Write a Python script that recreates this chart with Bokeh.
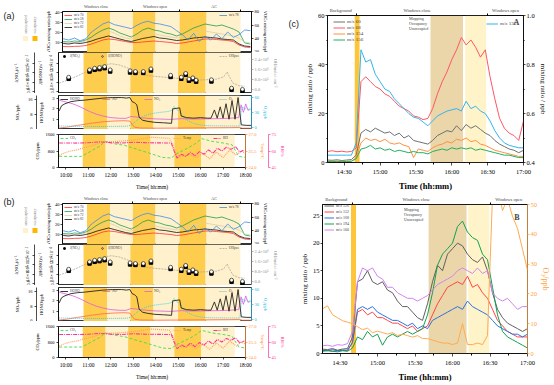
import numpy as np
from math import pi
from bokeh.plotting import figure
from bokeh.models import (Range1d, LinearAxis, FixedTicker, BoxAnnotation, Label,
                          Legend, LegendItem, NumeralTickFormatter)
from bokeh.core.properties import value
from bokeh.layouts import row, column
from bokeh.embed import file_html
from bokeh.resources import INLINE

SERIF = "Liberation Serif"
SANS = "Liberation Sans"

# ====================== DATA: panels (a) and (b) ======================
left_ticks = [10, 11, 12, 13, 14, 15, 16, 17, 18]
left_tick_labels = ["10:00", "11:00", "12:00", "13:00", "14:00", "15:00", "16:00", "17:00", "18:00"]
phase_labels = ["Windows close", "Windows open", "AC"]
phase_centers = [11.15, 13.75, 16.35]
phase_dividers = [12.77, 14.83, 17.52]
band_start = [10.75, 11.77, 12.77, 13.77, 14.83, 16.02]
band_end = [11.77, 12.77, 13.77, 14.83, 16.02, 17.52]
band_kind = ["occupancy", "unoccupied", "occupancy", "unoccupied", "occupancy", "unoccupied"]

# VOCs (ppb)
t_voc = [9.7, 9.95, 10.2, 10.45, 10.7, 10.95, 11.2, 11.45, 11.7, 11.95, 12.2, 12.45, 12.7, 12.95,
         13.2, 13.45, 13.7, 13.95, 14.2, 14.45, 14.7, 14.95, 15.2, 15.45, 15.7, 15.95, 16.2, 16.45,
         16.7, 16.95, 17.2, 17.45, 17.7, 17.95]
mz70 = [5.5, 5.3, 5.6, 5.8, 6.5, 8.0, 10.0, 12.0, 13.0, 12.5, 11.5, 10.5, 9.5, 9.5, 10.0, 10.5, 11.0,
        10.5, 10.0, 9.5, 8.5, 9.0, 10.0, 11.0, 12.0, 13.0, 13.0, 12.5, 12.0, 11.5, 10.5, 7.0, 5.0, 4.5]
mz58 = [10.5, 10.0, 11.0, 10.5, 12.0, 15.0, 19.0, 22.0, 24.0, 22.0, 19.0, 17.0, 15.0, 18.0, 22.0, 24.0,
        22.0, 21.0, 19.0, 18.0, 16.0, 18.0, 21.0, 24.0, 26.0, 28.0, 27.0, 26.0, 27.0, 25.0, 23.0, 20.0, 9.0, 8.0]
mz72 = [9.5, 9.0, 10.0, 9.5, 11.0, 13.0, 16.0, 19.0, 21.0, 19.0, 16.0, 14.0, 13.0, 15.0, 18.0, 20.0,
        18.5, 17.0, 16.0, 15.0, 14.0, 15.0, 17.0, 19.0, 20.0, 21.0, 20.0, 19.0, 18.0, 17.0, 16.0, 14.0, 10.0, 9.0]
mz82 = [8.5, 8.0, 9.0, 8.5, 9.5, 11.0, 13.0, 14.5, 16.0, 14.5, 13.0, 11.5, 10.5, 12.0, 13.5, 14.5, 15.5,
        14.0, 13.5, 12.5, 11.5, 12.0, 13.0, 14.0, 14.5, 15.0, 14.5, 14.0, 13.0, 12.5, 12.0, 8.0, 6.0, 5.5]
mz78 = [40, 38, 41, 37, 40, 50, 56, 62, 65, 61, 59, 57, 55, 60, 64, 66, 63, 62, 60, 58, 52, 46, 38, 48,
        36, 44, 38, 47, 40, 50, 42, 46, 53, 52]

# photolysis frequencies and OH
t_j = [10.11, 11.01, 11.23, 11.44, 11.66, 11.9, 12.76, 12.99, 13.33, 13.66, 14.51, 14.97, 15.16, 15.3,
       15.47, 15.61, 16.27, 17.14, 17.61]
j_no2 = [5.4e-3, 8.5e-3, 9.2e-3, 9.5e-3, 9.9e-3, 8.5e-3, 8.1e-3, 7.9e-3, 7.9e-3, 8.9e-3, 6.2e-3, 5.4e-3,
         7.1e-3, 4.6e-3, 5.2e-3, 4.2e-3, 4.3e-3, 0.8e-3, 0.3e-3]
j_hono = [1.07e-4, 1.61e-4, 1.73e-4, 1.78e-4, 1.85e-4, 1.61e-4, 1.54e-4, 1.49e-4, 1.49e-4, 1.68e-4,
          1.21e-4, 1.07e-4, 1.35e-4, 0.93e-4, 1.02e-4, 0.85e-4, 0.88e-4, 0.26e-4, 0.17e-4]
t_oh = [9.7, 10.0, 10.4, 10.8, 11.2, 11.6, 11.95, 12.3, 12.6, 12.9, 13.2, 13.5, 13.8, 14.1, 14.4, 14.7,
        15.0, 15.4, 15.8, 16.2, 16.5, 16.8, 16.95, 17.05, 17.2, 17.45, 17.7]
oh_pss = [0.5e6, 0.7e6, 1.0e6, 1.35e6, 1.7e6, 1.95e6, 2.05e6, 1.95e6, 1.75e6, 1.55e6, 1.3e6, 1.1e6,
          1.05e6, 1.0e6, 0.95e6, 0.9e6, 0.85e6, 0.8e6, 0.75e6, 0.78e6, 0.82e6, 1.0e6, 1.4e6, 1.0e6,
          0.5e6, 0.3e6, 0.25e6]

# HONO, NO, NO2, O3 (ppb)
t_hono = [9.7, 9.8, 9.95, 10.2, 10.5, 10.8, 11.2, 11.6, 12.0, 12.4, 12.6, 12.75, 12.85, 12.95, 13.05,
          13.15, 13.3, 13.5, 13.8, 14.2, 14.55, 14.6, 14.9, 14.97, 15.2, 15.5, 15.8, 16.1, 16.25, 16.4,
          16.52, 16.65, 16.77, 16.9, 17.03, 17.16, 17.29, 17.42, 17.5, 17.56, 17.8, 18.0]
hono = [1.8, 2.3, 2.5, 2.7, 2.8, 2.85, 2.95, 3.05, 3.1, 3.1, 3.05, 3.1, 2.7, 2.6, 2.4, 1.2, 0.9, 0.8,
        0.7, 0.65, 0.6, 2.0, 2.1, 1.3, 1.15, 1.1, 1.15, 1.1, 1.1, 1.9, 1.1, 2.2, 1.1, 2.5, 1.0, 2.8, 1.0,
        3.1, 1.6, 0.45, 0.4, 0.4]
t_no = [9.7, 10.0, 10.5, 11.0, 11.5, 12.0, 12.5, 12.75, 12.85, 12.95, 13.2, 14.0, 15.0, 16.0, 17.0,
        17.5, 17.6, 18.0]
no = [0.6, 1.0, 2.0, 3.0, 3.8, 4.3, 4.5, 4.3, 2.5, 1.0, 0.6, 0.5, 0.6, 0.7, 0.8, 0.9, 0.5, 0.5]
t_no2 = [9.7, 10.0, 10.3, 10.6, 11.0, 11.3, 11.6, 11.9, 12.3, 12.6, 12.8, 13.0, 13.3, 13.8, 14.5, 15.0,
         15.5, 16.0, 16.5, 17.0, 17.45, 17.55, 17.65, 17.75, 17.85, 17.95]
no2 = [15.5, 14.5, 13.5, 12.0, 9.5, 8.0, 7.0, 6.2, 5.8, 5.8, 6.8, 6.5, 6.0, 5.5, 5.2, 5.6, 5.4, 5.5,
       5.6, 5.8, 6.2, 13.0, 9.0, 13.5, 10.0, 11.0]
t_o3 = [9.7, 10.5, 11.5, 12.5, 12.7, 12.9, 13.1, 13.3, 13.6, 14.0, 14.4, 14.55, 14.65, 14.8, 15.0,
        15.2, 15.5, 15.8, 16.2, 17.0, 17.5, 17.55, 17.6, 17.7, 17.8, 17.9, 18.0]
o3 = [3, 2.5, 2, 2.5, 3, 8, 16, 22, 27, 30, 32, 34, 42, 35, 25, 15, 8, 5, 3.5, 3, 3, 30, 42, 36, 40,
      35, 37]

# CO2 (ppm), temperature (degC), RH (%)
t_co2 = [9.7, 10.7, 11.5, 11.75, 12.2, 12.6, 13.2, 13.7, 14.3, 14.7, 14.9, 15.3, 15.7, 16.05, 16.5,
         17.0, 17.4, 17.7, 18.0]
co2 = [540, 540, 1030, 1270, 1140, 1080, 870, 700, 490, 460, 650, 870, 1110, 1400, 1270, 1190, 1100,
       540, 490]
t_temp = [9.7, 9.9, 10.2, 10.5, 10.8, 11.2, 11.6, 12.0, 12.5, 13.0, 13.5, 13.8, 14.2, 14.6, 14.75,
          14.9, 15.2, 15.5, 15.8, 16.1, 16.4, 16.7, 17.0, 17.3, 17.6, 17.8, 18.0]
temp = [25.1, 25.3, 25.5, 25.6, 25.8, 26.0, 26.3, 26.35, 26.4, 26.5, 26.65, 26.75, 26.7, 26.65, 26.1,
        25.2, 25.0, 25.2, 24.9, 25.3, 24.8, 25.4, 24.9, 25.6, 25.1, 25.5, 25.3]
t_rh = [9.7, 10.5, 11.0, 11.5, 12.0, 12.5, 13.0, 13.5, 14.0, 14.5, 14.7, 14.8, 14.95, 15.15, 15.35,
        15.55, 15.75, 15.95, 16.15, 16.35, 16.55, 16.75, 16.95, 17.15, 17.35, 17.55, 17.75, 17.95]
rh = [67.3, 67.2, 67.5, 68.3, 67.6, 67.3, 68.0, 67.6, 67.4, 67.3, 67.2, 61.0, 53.6, 57.0, 55.0, 59.0,
      55.5, 59.5, 57.0, 61.0, 58.0, 62.5, 60.0, 63.5, 61.5, 64.0, 59.0, 61.0]

# ====================== DATA: panel (c) ======================
c_ticks = [30, 60, 90, 120, 150, 180]          # minutes after 14:00
c_tick_labels = ["14:30", "15:00", "15:30", "16:00", "16:30", "17:00"]
c_phase_labels = ["Background", "Windows close", "Windows open"]
c_phase_centers = [27, 91, 165]
c_phase_dividers = [40, 150]
bandA_start = [38.8, 102.2, 131.2]
bandA_end = [42.8, 129.4, 148.8]
bandB_start = [38.8, 100.9, 132.6]
bandB_end = [42.8, 131.2, 149.4]
c_band_kind = ["Mopping", "Occupancy", "Unoccupied"]

t_c = [16, 20, 24, 28, 32, 36, 40, 44, 48, 52, 56, 60, 64, 68, 72, 76, 80, 84, 88, 92, 96, 100, 104,
       108, 112, 116, 120, 124, 128, 132, 136, 140, 144, 148, 152, 156, 160, 164, 168, 172, 176, 180]
mz60 = [1.0, 0.9, 1.1, 0.8, 1.0, 1.2, 3, 12, 13.5, 12.5, 14, 13, 12, 12.5, 11, 12, 10, 11, 9, 8.5, 8,
        7.5, 9, 11, 12, 13, 12.5, 15, 13, 15.5, 14, 15, 13.5, 12, 11, 9, 7.5, 6.5, 5.5, 5, 4, 5]
mz68 = [4.5, 4.8, 4.4, 4.6, 4.3, 4.5, 6, 33, 35, 33, 31, 30, 28, 27, 25, 23, 22, 21, 19, 18.5, 17.5,
        18, 22, 28, 33, 37, 42, 46, 51, 48, 50, 47, 43, 46, 35, 26, 18, 14, 12, 11, 9, 17]
mz154 = [0.6, 0.5, 0.7, 0.5, 0.6, 0.5, 2, 8, 10, 9, 9.5, 8.5, 9.5, 8, 7.5, 8, 7, 6.5, 2, 5.5, 5, 4.5,
         6, 7, 7.5, 8.5, 8, 9.5, 9, 10, 8.5, 9, 7.5, 7, 6, 5, 4.5, 4, 3.5, 3, 2.5, 2.5]
mz156 = [0.4, 0.5, 0.3, 0.5, 0.4, 0.5, 1.5, 5.5, 6, 7, 5.5, 6, 5, 5.5, 4.5, 5, 4.5, 4, 4.5, 4, 4, 3.5,
         4.5, 5, 5.5, 5, 6, 5.5, 6, 5.5, 6, 5, 5.5, 5, 4.5, 4, 3.5, 3, 3, 2.5, 2, 2]
mz136 = [0.43, 0.43, 0.43, 0.43, 0.43, 0.43, 0.48, 0.86, 0.81, 0.82, 0.76, 0.73, 0.70, 0.69, 0.66,
         0.64, 0.62, 0.60, 0.585, 0.58, 0.565, 0.55, 0.57, 0.59, 0.60, 0.61, 0.615, 0.62, 0.61, 0.65,
         0.62, 0.63, 0.61, 0.60, 0.57, 0.53, 0.50, 0.48, 0.47, 0.465, 0.46, 0.46]

mz126 = [0.8, 0.7, 0.9, 0.6, 0.8, 0.9, 3, 13, 13.5, 15, 13, 12.5, 13, 11.5, 11, 9.5, 8.5, 8.5, 7.5,
         6.5, 6, 9, 13, 16, 15, 18, 19, 20, 19.5, 18, 17, 16.5, 17.5, 15, 11, 8, 6.5, 5.5, 5, 4.5, 4, 4.5]
mz152 = [0.5, 0.6, 0.4, 0.5, 0.6, 0.5, 2, 7.5, 8, 7, 7.5, 6.5, 6.5, 6, 5.5, 5.5, 5, 4.5, 5, 4, 4.5,
         5, 7, 9, 10.5, 12, 12.5, 13, 12.5, 14, 12, 12.5, 11, 10, 8, 6, 5, 4, 3.5, 3, 3, 3]
mz168 = [0.6, 0.5, 0.7, 0.5, 0.6, 0.6, 2, 8, 8.5, 8, 8.5, 7.5, 7, 6.5, 6, 6, 5.5, 5, 5.5, 4.5, 5, 4.5,
         6, 6.5, 7, 7.5, 8, 8.5, 8, 9.5, 8.5, 8, 7.5, 7, 6, 5, 4.5, 4, 3.5, 3.5, 3, 3.5]
mz194 = [0.4, 0.5, 0.4, 0.3, 0.5, 0.4, 1, 3, 2.5, 4, 3, 3.5, 1.5, 3, 3.5, 3, 3.5, 4, 3.5, 4, 4.5, 7,
         11, 16, 18, 19, 20, 23, 24, 22, 21, 20.5, 18, 17, 12, 7, 4, 3, 2.5, 2, 1.5, 1]
mz100 = [1.4, 1.5, 1.3, 1.6, 1.5, 1.8, 4, 13, 15.5, 15, 15.5, 14, 13.5, 12, 12, 11, 10.5, 10, 10, 9.5,
         10, 10.5, 11.5, 12.5, 13, 13.5, 14, 15, 15.5, 15, 14.5, 15.5, 14.5, 15, 11, 10, 9.5, 10, 9, 8,
         8.5, 8.5]
o3_c = [15, 16, 13, 12, 11, 10.5, 10, 9, 8, 8.5, 7, 7.5, 7, 6.5, 7, 6, 6.5, 6, 5.5, 6, 5, 5, 4.5, 4,
        3.5, 3.5, 3, 3.5, 10, 3, 3, 3.5, 3, 6, 53, 56, 48, 52, 46, 42, 35, 28]

# ====================== helpers ======================
LEFT_BAND_COLORS = {"occupancy": "#FFCD4D", "unoccupied": "#FFF1CC"}
C_BAND_COLORS = {"Mopping": "#FFC53A", "Occupancy": "#EAD6A9", "Unoccupied": "#FFF3C9"}
C_LEG_COLORS = {"Mopping": "#FFB000", "Occupancy": "#C9960F", "Unoccupied": "#FFD856"}


def no_align(p):
    try:
        p.frame_align = False
    except Exception:
        pass


def base_fig(w, h, xr, yr, bl, br, bt, bb):
    p = figure(width=w, height=h, x_range=xr, y_range=yr, output_backend="svg",
               toolbar_location=None, min_border_left=bl, min_border_right=br,
               min_border_top=bt, min_border_bottom=bb)
    no_align(p)
    p.grid.visible = False
    p.outline_line_color = "black"
    p.outline_line_width = 0.8
    p.outline_line_alpha = 1
    return p


def tag_fig(w, h):
    p = figure(width=w, height=h, x_range=Range1d(0, w), y_range=Range1d(0, h),
               output_backend="svg", toolbar_location=None, min_border_left=0,
               min_border_right=0, min_border_top=0, min_border_bottom=0)
    no_align(p)
    p.xaxis.visible = False
    p.yaxis.visible = False
    p.grid.visible = False
    p.outline_line_color = None
    return p


def style_axis(ax, fs, lfs, color="black", label=None, tick_out=2, lstand=1, mstand=1):
    ax.axis_line_color = color
    ax.axis_line_width = 0.7
    ax.major_tick_line_color = color
    ax.major_tick_line_width = 0.7
    ax.major_tick_out = tick_out
    ax.major_tick_in = 0
    ax.minor_tick_line_color = color
    ax.minor_tick_out = max(1, tick_out - 1)
    ax.minor_tick_in = 0
    ax.major_label_text_color = color
    ax.major_label_text_font = SERIF
    ax.major_label_text_font_size = f"{fs}px"
    ax.major_label_standoff = mstand
    if label is not None:
        ax.axis_label = label
        ax.axis_label_text_font = SERIF
        ax.axis_label_text_font_size = f"{lfs}px"
        ax.axis_label_text_font_style = "normal"
        ax.axis_label_text_color = color
        ax.axis_label_standoff = lstand


def set_ticks(ax, ticks, labels=None, minor=None):
    ax.ticker = FixedTicker(ticks=ticks, minor_ticks=minor or [])
    if labels is not None:
        ax.major_label_overrides = {t: l for t, l in zip(ticks, labels)}


def header_axis(p, texts, centers, dividers, fs):
    ax = LinearAxis()
    ax.ticker = FixedTicker(ticks=centers, minor_ticks=dividers)
    ax.major_label_overrides = {c: t for c, t in zip(centers, texts)}
    ax.axis_line_color = "black"
    ax.axis_line_width = 0.7
    ax.major_tick_line_color = None
    ax.major_tick_out = 0
    ax.major_tick_in = 0
    ax.minor_tick_line_color = "black"
    ax.minor_tick_out = 2
    ax.minor_tick_in = 0
    ax.major_label_standoff = 1
    ax.major_label_text_font = SERIF
    ax.major_label_text_font_size = f"{fs}px"
    p.add_layout(ax, "above")


def add_bands(p, starts, ends, kinds, cmap):
    for s, e, k in zip(starts, ends, kinds):
        p.add_layout(BoxAnnotation(left=s, right=e, fill_color=cmap[k], fill_alpha=1.0,
                                   line_color=None, level="underlay"))


def add_legend(p, items, loc, fs, orient="vertical", gw=8, gh=4, spacing=0):
    lg = Legend(items=[LegendItem(label=l, renderers=[r]) for l, r in items], location=loc,
                orientation=orient, label_text_font=SERIF, label_text_font_size=f"{fs}px",
                label_height=int(gh), glyph_height=int(gh), glyph_width=int(gw), label_standoff=2,
                spacing=int(spacing), padding=1, margin=1, background_fill_alpha=0,
                border_line_alpha=0, label_text_line_height=1.0)
    p.add_layout(lg)
    return lg


# ====================== panels (a)/(b) ======================
W_L, BL, BR, TAG_W = 288, 58, 37, 42
TFS, LFS = 4.5, 4.5


def make_left(tag, top1, bt4, bb4, tag_y):
    xr = Range1d(9.67, 18.0)
    # ---- tag (panel letter + band legend)
    h1 = top1 + 45
    tg = tag_fig(TAG_W, h1)
    tg.text(x=[3], y=[h1 - tag_y], text=[tag], text_font=value(SANS), text_font_size="9px",
            text_baseline="middle", text_color="#222222")
    tg.text(x=[25, 34], y=[19, 19], text=["unoccupied", "occupancy"], angle=pi / 2,
            text_font=value(SERIF), text_font_size="4px", text_baseline="middle",
            text_color="#777777")
    tg.quad(left=[22.5, 32], right=[27.5, 37], bottom=[11.5, 11.5], top=[16.5, 16.5],
            fill_color=[LEFT_BAND_COLORS["unoccupied"], "#FFB800"], line_color=None)

    # ---- VOCs
    f1 = base_fig(W_L - TAG_W, h1, xr, Range1d(-0.5, 40.5), BL - TAG_W, BR, top1, 0)
    f1.xaxis.visible = False
    f1.extra_y_ranges = {"r": Range1d(19.5, 80.5)}
    add_bands(f1, band_start, band_end, band_kind, LEFT_BAND_COLORS)
    r70 = f1.line(t_voc, mz70, color="#FF3030", line_width=0.8)
    r58 = f1.line(t_voc, mz58, color="#1E9E50", line_width=0.8)
    r72 = f1.line(t_voc, mz72, color="#D9D2A6", line_width=0.8)
    r82 = f1.line(t_voc, mz82, color="#111111", line_width=0.8)
    r78 = f1.line(t_voc, mz78, color="#3A8EE6", line_width=0.8, y_range_name="r")
    style_axis(f1.yaxis[0], TFS, LFS, label="VOCs mixing ratio/ppb")
    set_ticks(f1.yaxis[0], [10, 20, 30, 40])
    ax = LinearAxis(y_range_name="r")
    style_axis(ax, TFS, LFS, label="VOCs mixing ratio/ppb")
    set_ticks(ax, [20, 40, 60, 80])
    f1.add_layout(ax, "right")
    header_axis(f1, phase_labels, phase_centers, phase_dividers, 4)
    add_legend(f1, [("m/z 70", r70), ("m/z 58", r58), ("m/z 72", r72), ("m/z 82", r82)],
               "top_left", 3.5, gh=4)
    add_legend(f1, [("m/z 78", r78)], "top_right", 3.5, gh=4)

    # ---- J values and OH
    f2 = base_fig(W_L, 41, xr, Range1d(-1.4, 28.9), BL, BR, 0, 0)
    f2.xaxis.visible = False
    f2.extra_y_ranges = {"jno2": Range1d(-0.8, 16.5), "oh": Range1d(-3.3, 29.5)}
    add_bands(f2, band_start, band_end, band_kind, LEFT_BAND_COLORS)
    roh = f2.line(t_oh, np.array(oh_pss) / 1e5, color="#A0A0A0", line_width=0.7,
                  line_dash="2 1", y_range_name="oh")
    rj1 = f2.scatter(t_j, np.array(j_no2) * 1e3, marker="square", size=3.5, color="black",
                     y_range_name="jno2")
    rj2 = f2.scatter(t_j, np.array(j_hono) * 1e5, marker="circle", size=3.8,
                     fill_color="white", line_color="black", line_width=0.6)
    style_axis(f2.yaxis[0], TFS, LFS, label="J(HONO)/s⁻¹", mstand=2, lstand=4)
    set_ticks(f2.yaxis[0], [0, 7, 14, 21], ["0.0", "7.0×10⁻⁵", "1.4×10⁻⁴", "2.1×10⁻⁴"])
    f2.yaxis[0].major_label_orientation = "vertical"
    ax = LinearAxis(y_range_name="jno2")
    style_axis(ax, TFS, LFS, label="J(NO₂)/s⁻¹", mstand=2, lstand=4)
    set_ticks(ax, [0, 4, 8, 12], ["0.0", "4.0×10⁻³", "8.0×10⁻³", "1.2×10⁻²"])
    ax.major_label_orientation = "vertical"
    f2.add_layout(ax, "left")
    ax = LinearAxis(y_range_name="oh")
    style_axis(ax, TFS, LFS, color="#909090", label="OH/molec cm⁻³")
    set_ticks(ax, [0, 8, 16, 24], ["0.0", "8.0×10⁵", "1.6×10⁶", "2.4×10⁶"])
    f2.add_layout(ax, "right")
    add_legend(f2, [("J(NO₂)", rj1), ("J(HONO)", rj2)], "top_left", 3.5, orient="horizontal",
               gh=4, spacing=8)
    add_legend(f2, [("OHpss", roh)], "top_right", 3.5)

    # ---- HONO / NOx / O3
    f3 = base_fig(W_L, 36, xr, Range1d(0, 3.3), BL, BR, 2, 0)
    f3.xaxis.visible = False
    f3.extra_y_ranges = {"nox": Range1d(-0.2, 18), "o3": Range1d(-4, 64)}
    add_bands(f3, band_start, band_end, band_kind, LEFT_BAND_COLORS)
    rno = f3.line(t_no, no, color="#FF6A4A", line_width=0.8, y_range_name="nox")
    rno2 = f3.line(t_no2, no2, color="#E05AE0", line_width=0.8, y_range_name="nox")
    ro3 = f3.line(t_o3, o3, color="#33CCE6", line_width=0.9, line_dash="1 1", y_range_name="o3")
    rh_ = f3.line(t_hono, hono, color="#222222", line_width=0.9)
    style_axis(f3.yaxis[0], TFS, LFS, label="HONO/ppb", mstand=2, lstand=5)
    set_ticks(f3.yaxis[0], [1, 2, 3])
    ax = LinearAxis(y_range_name="nox")
    style_axis(ax, TFS, LFS, label="NOₓ/ppb", mstand=2, lstand=5)
    set_ticks(ax, [0, 8, 16])
    f3.add_layout(ax, "left")
    ax = LinearAxis(y_range_name="o3")
    style_axis(ax, TFS, LFS, color="#22BBDD", label="O₃/ppb")
    set_ticks(ax, [0, 30, 60])
    f3.add_layout(ax, "right")
    add_legend(f3, [("HONO", rh_), ("NO", rno), ("NO₂", rno2)], "top_left", 3.5,
               orient="horizontal", gh=4, spacing=12)
    add_legend(f3, [("O₃", ro3)], "top_right", 3.5)

    # ---- CO2 / Temp / RH
    f4 = base_fig(W_L, bt4 + 34 + bb4, xr, Range1d(0, 1600), BL, BR, bt4, bb4)
    f4.extra_y_ranges = {"t": Range1d(24, 27), "rh": Range1d(45, 75)}
    add_bands(f4, band_start, band_end, band_kind, LEFT_BAND_COLORS)
    rco2 = f4.line(t_co2, co2, color="#44DD44", line_width=0.9, line_dash="3 2")
    rt = f4.line(t_temp, temp, color="#FFA060", line_width=1.2, line_dash="1 1", y_range_name="t")
    rrh = f4.line(t_rh, rh, color="#FF3399", line_width=1.1, line_dash="4 1 1 1", y_range_name="rh")
    style_axis(f4.yaxis[0], TFS, LFS, label="CO₂/ppm", mstand=2, lstand=3)
    set_ticks(f4.yaxis[0], [0, 800, 1600])
    ax = LinearAxis(y_range_name="t")
    style_axis(ax, TFS, LFS, color="#FF9040", label="Temp/°C")
    ax.ticker = FixedTicker(ticks=[24.0, 25.5, 27.0])
    ax.formatter = NumeralTickFormatter(format="0.0")
    f4.add_layout(ax, "right")
    ax = LinearAxis(y_range_name="rh")
    style_axis(ax, TFS, LFS, color="#FF3399", label="RH/%")
    set_ticks(ax, [45, 60, 75])
    f4.add_layout(ax, "right")
    style_axis(f4.xaxis[0], 5.5, 5.5, label="Time( hh:mm)", mstand=2, lstand=3)
    set_ticks(f4.xaxis[0], left_ticks, left_tick_labels)
    add_legend(f4, [("CO₂", rco2)], "top_left", 3.5)
    add_legend(f4, [("Temp", rt), ("RH", rrh)], "top_right", 3.5, orient="horizontal",
               spacing=10)
    return column(row(tg, f1), f2, f3, f4)


# ====================== panel (c) ======================
CFS, CLFS = 6.5, 7


def make_right(which):
    if which == "A":
        w, bl, br, bt, bb, h = 252, 20, 31, 15, 27, 193
        yr = Range1d(0, 60)
        starts, ends = bandA_start, bandA_end
    else:
        w, bl, br, bt, bb, h = 266, 34, 27, 11, 30, 191
        yr = Range1d(0, 27)
        starts, ends = bandB_start, bandB_end
    p = base_fig(w, h, Range1d(16, 180), yr, bl, br, bt, bb)
    fh = h - bt - bb
    add_bands(p, starts, ends, c_band_kind, C_BAND_COLORS)
    style_axis(p.xaxis[0], CFS, 8.5, label="Time (hh:mm)", tick_out=3, mstand=2, lstand=3)
    p.xaxis[0].axis_label_text_font_style = "bold"
    set_ticks(p.xaxis[0], c_ticks, c_tick_labels, minor=[45, 75, 105, 135, 165])
    style_axis(p.yaxis[0], CFS, CLFS, label="mixing ratio / ppb", tick_out=2)
    header_axis(p, c_phase_labels, c_phase_centers, c_phase_dividers, 4.5)
    band_rs = [p.quad(left=[], right=[], top=[], bottom=[], fill_color=C_LEG_COLORS[k],
                      line_color=None) for k in c_band_kind]
    if which == "A":
        set_ticks(p.yaxis[0], [0, 20, 40, 60], minor=[10, 30, 50])
        p.extra_y_ranges = {"r": Range1d(0.4, 1.0)}
        r1 = p.line(t_c, mz60, color="#707070", line_width=1)
        r2 = p.line(t_c, mz68, color="#FF5566", line_width=1)
        r3 = p.line(t_c, mz154, color="#FF9040", line_width=1)
        r4 = p.line(t_c, mz156, color="#20B060", line_width=1)
        r5 = p.line(t_c, mz136, color="#33B3F0", line_width=1, y_range_name="r")
        ax = LinearAxis(y_range_name="r")
        style_axis(ax, CFS, CLFS, label="mixing ratio / ppb", tick_out=2)
        ax.ticker = FixedTicker(ticks=[0.4, 0.6, 0.8, 1.0], minor_ticks=[0.5, 0.7, 0.9])
        ax.formatter = NumeralTickFormatter(format="0.0")
        p.add_layout(ax, "right")
        add_legend(p, [("m/z 60", r1), ("m/z 68", r2), ("m/z 154", r3), ("m/z 156", r4)],
                   (5, fh - 32), 5, gw=12, gh=5, spacing=1)
        add_legend(p, [(k, r) for k, r in zip(c_band_kind, band_rs)], (70, fh - 21), 4,
                   gw=9, gh=4, spacing=0)
        add_legend(p, [("m/z 136", r5)], (158, fh - 16), 5, gw=12, gh=5)
        p.add_layout(Label(x=174, y=57, text="A", text_font=SERIF, text_font_size="8px",
                           text_font_style="bold", text_align="center", text_baseline="middle"))
    else:
        set_ticks(p.yaxis[0], [0, 5, 10, 15, 20, 25])
        p.extra_y_ranges = {"r": Range1d(0, 50)}
        r1 = p.line(t_c, mz126, color="#606060", line_width=1)
        r2 = p.line(t_c, mz152, color="#FF4444", line_width=1)
        r3 = p.line(t_c, mz168, color="#2A72E0", line_width=1)
        r4 = p.line(t_c, mz194, color="#14A050", line_width=1)
        r5 = p.line(t_c, mz100, color="#D084F0", line_width=1)
        r6 = p.line(t_c, o3_c, color="#FFAA50", line_width=1, y_range_name="r")
        ax = LinearAxis(y_range_name="r")
        style_axis(ax, CFS, 8, color="#FF9F40", label="O₃/ppb", tick_out=2)
        set_ticks(ax, [0, 10, 20, 30, 40, 50])
        p.add_layout(ax, "right")
        add_legend(p, [("m/z 126", r1), ("m/z 152", r2), ("m/z 168", r3), ("m/z 194", r4),
                       ("m/z 100", r5)], (1, fh - 30), 4, gw=10, gh=5, spacing=1)
        add_legend(p, [(k, r) for k, r in zip(c_band_kind, band_rs)], (70, fh - 20), 4,
                   gw=9, gh=4, spacing=0)
        p.add_layout(Label(x=171.5, y=24.7, text="B", text_font=SERIF, text_font_size="8px",
                           text_font_style="bold", text_align="center", text_baseline="middle"))
    return p


left = column(make_left("(a)", 7, 5, 24, 15), make_left("(b)", 7, 5, 22, 9))
ctag = tag_fig(14, 193)
ctag.text(x=[0], y=[170], text=["(c)"], text_font=value(SANS), text_font_size="9px",
          text_baseline="middle", text_color="#222222")
right = column(row(ctag, make_right("A")), make_right("B"))
layout = row(left, right)

open("out.html", "w").write(file_html(layout, INLINE))
